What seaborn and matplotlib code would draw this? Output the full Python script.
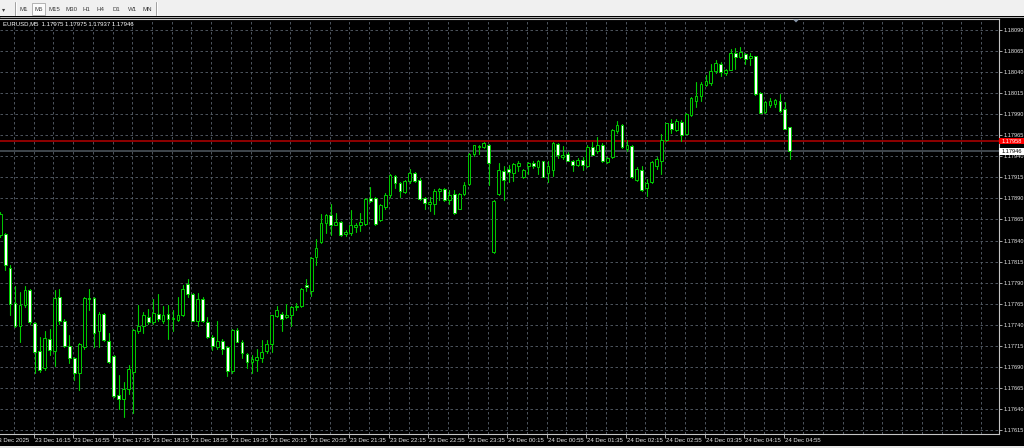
import numpy as np
import pandas as pd
import matplotlib
matplotlib.use("Agg")
import matplotlib.pyplot as plt
import matplotlib.transforms as mtransforms
from matplotlib.patches import Rectangle, Polygon
from matplotlib.lines import Line2D
import seaborn as sns

# ---------------- data ----------------
chart_title = "EURUSD,M5  1.17975 1.17975 1.17937 1.17946"
first_bar_time = "2025-12-23 15:45"

opens = [
    1.17846, 1.17848, 1.17807, 1.17766, 1.17738, 1.17764, 1.17781, 1.17742, 1.17709, 1.17688,
    1.17723, 1.17709, 1.17773, 1.17745, 1.17715, 1.17700, 1.17683, 1.17714, 1.17772, 1.17772,
    1.17733, 1.17753, 1.17721, 1.17703, 1.17657, 1.17652, 1.17664, 1.17684, 1.17732, 1.17739,
    1.17749, 1.17743, 1.17753, 1.17745, 1.17753, 1.17747, 1.17746, 1.17751, 1.17788, 1.17776,
    1.17745, 1.17771, 1.17743, 1.17726, 1.17714, 1.17721, 1.17714, 1.17685, 1.17734, 1.17720,
    1.17705, 1.17696, 1.17698, 1.17700, 1.17709, 1.17717, 1.17750, 1.17753, 1.17749, 1.17752,
    1.17761, 1.17762, 1.17787, 1.17780, 1.17820, 1.17838, 1.17861, 1.17870, 1.17859, 1.17862,
    1.17848, 1.17849, 1.17856, 1.17858, 1.17860, 1.17891, 1.17891, 1.17864, 1.17880, 1.17894,
    1.17917, 1.17908, 1.17898, 1.17911, 1.17920, 1.17912, 1.17890, 1.17883, 1.17883, 1.17899,
    1.17901, 1.17888, 1.17895, 1.17878, 1.17895, 1.17907, 1.17943, 1.17951, 1.17951, 1.17954,
    1.17826, 1.17895, 1.17923, 1.17925, 1.17920, 1.17929, 1.17915, 1.17929, 1.17932, 1.17927,
    1.17934, 1.17920, 1.17924, 1.17955, 1.17939, 1.17943, 1.17935, 1.17930, 1.17936, 1.17928,
    1.17951, 1.17946, 1.17953, 1.17933, 1.17939, 1.17970, 1.17977, 1.17949, 1.17952, 1.17912,
    1.17924, 1.17902, 1.17909, 1.17929, 1.17935, 1.17959, 1.17980, 1.17971, 1.17981, 1.17967,
    1.17989, 1.18006, 1.18012, 1.18025, 1.18027, 1.18041, 1.18050, 1.18039, 1.18043, 1.18063,
    1.18058, 1.18061, 1.18057, 1.18059, 1.18015, 1.17993, 1.18001, 1.18002, 1.18006, 1.17996,
    1.17975,
]
highs = [
    1.17874, 1.17849, 1.17811, 1.17786, 1.17779, 1.17786, 1.17783, 1.17743, 1.17726, 1.17732,
    1.17735, 1.17781, 1.17783, 1.17747, 1.17728, 1.17702, 1.17718, 1.17773, 1.17782, 1.17773,
    1.17755, 1.17754, 1.17730, 1.17704, 1.17680, 1.17672, 1.17692, 1.17735, 1.17763, 1.17755,
    1.17759, 1.17771, 1.17776, 1.17762, 1.17763, 1.17757, 1.17773, 1.17787, 1.17794, 1.17778,
    1.17778, 1.17773, 1.17749, 1.17728, 1.17745, 1.17723, 1.17715, 1.17735, 1.17736, 1.17722,
    1.17706, 1.17704, 1.17711, 1.17722, 1.17722, 1.17752, 1.17762, 1.17755, 1.17765, 1.17762,
    1.17766, 1.17784, 1.17794, 1.17820, 1.17842, 1.17871, 1.17871, 1.17883, 1.17873, 1.17863,
    1.17853, 1.17876, 1.17861, 1.17873, 1.17891, 1.17904, 1.17892, 1.17883, 1.17896, 1.17919,
    1.17918, 1.17910, 1.17912, 1.17925, 1.17921, 1.17914, 1.17892, 1.17892, 1.17901, 1.17902,
    1.17902, 1.17900, 1.17900, 1.17896, 1.17910, 1.17944, 1.17954, 1.17953, 1.17957, 1.17955,
    1.17888, 1.17932, 1.17929, 1.17930, 1.17932, 1.17934, 1.17925, 1.17933, 1.17935, 1.17936,
    1.17935, 1.17934, 1.17957, 1.17956, 1.17952, 1.17945, 1.17936, 1.17938, 1.17939, 1.17953,
    1.17957, 1.17963, 1.17956, 1.17939, 1.17972, 1.17982, 1.17978, 1.17959, 1.17953, 1.17927,
    1.17929, 1.17913, 1.17934, 1.17939, 1.17966, 1.17980, 1.17984, 1.17984, 1.17983, 1.17991,
    1.18010, 1.18028, 1.18028, 1.18037, 1.18050, 1.18054, 1.18052, 1.18044, 1.18068, 1.18069,
    1.18070, 1.18063, 1.18063, 1.18059, 1.18016, 1.18006, 1.18009, 1.18008, 1.18014, 1.18004,
    1.17975,
]
lows = [
    1.17844, 1.17805, 1.17751, 1.17737, 1.17720, 1.17761, 1.17741, 1.17683, 1.17684, 1.17686,
    1.17704, 1.17691, 1.17741, 1.17714, 1.17694, 1.17674, 1.17663, 1.17711, 1.17757, 1.17714,
    1.17714, 1.17721, 1.17695, 1.17654, 1.17640, 1.17630, 1.17658, 1.17635, 1.17730, 1.17730,
    1.17741, 1.17741, 1.17745, 1.17742, 1.17723, 1.17732, 1.17745, 1.17750, 1.17773, 1.17744,
    1.17739, 1.17743, 1.17724, 1.17710, 1.17711, 1.17705, 1.17679, 1.17683, 1.17719, 1.17700,
    1.17689, 1.17683, 1.17685, 1.17696, 1.17706, 1.17707, 1.17749, 1.17733, 1.17748, 1.17739,
    1.17757, 1.17761, 1.17780, 1.17774, 1.17811, 1.17837, 1.17849, 1.17846, 1.17858, 1.17845,
    1.17845, 1.17847, 1.17850, 1.17851, 1.17859, 1.17886, 1.17859, 1.17863, 1.17877, 1.17892,
    1.17902, 1.17892, 1.17896, 1.17908, 1.17909, 1.17888, 1.17878, 1.17875, 1.17872, 1.17888,
    1.17887, 1.17883, 1.17872, 1.17877, 1.17894, 1.17906, 1.17940, 1.17943, 1.17950, 1.17906,
    1.17825, 1.17894, 1.17888, 1.17910, 1.17911, 1.17922, 1.17914, 1.17919, 1.17926, 1.17919,
    1.17915, 1.17910, 1.17917, 1.17938, 1.17937, 1.17934, 1.17923, 1.17929, 1.17924, 1.17927,
    1.17941, 1.17944, 1.17933, 1.17932, 1.17938, 1.17968, 1.17950, 1.17946, 1.17914, 1.17911,
    1.17899, 1.17893, 1.17908, 1.17925, 1.17919, 1.17958, 1.17968, 1.17970, 1.17958, 1.17966,
    1.17988, 1.17999, 1.18006, 1.18023, 1.18025, 1.18039, 1.18035, 1.18037, 1.18042, 1.18044,
    1.18057, 1.18050, 1.18049, 1.18013, 1.17991, 1.17992, 1.17999, 1.17999, 1.17993, 1.17972,
    1.17937,
]
closes = [
    1.17872, 1.17811, 1.17765, 1.17738, 1.17764, 1.17781, 1.17743, 1.17708, 1.17686, 1.17724,
    1.17710, 1.17772, 1.17745, 1.17715, 1.17701, 1.17683, 1.17717, 1.17772, 1.17770, 1.17730,
    1.17753, 1.17722, 1.17696, 1.17655, 1.17652, 1.17664, 1.17687, 1.17734, 1.17739, 1.17751,
    1.17743, 1.17754, 1.17747, 1.17752, 1.17747, 1.17748, 1.17751, 1.17783, 1.17776, 1.17745,
    1.17771, 1.17744, 1.17726, 1.17715, 1.17721, 1.17711, 1.17685, 1.17734, 1.17720, 1.17706,
    1.17696, 1.17699, 1.17702, 1.17707, 1.17717, 1.17751, 1.17757, 1.17747, 1.17752, 1.17761,
    1.17762, 1.17783, 1.17785, 1.17819, 1.17831, 1.17861, 1.17870, 1.17858, 1.17862, 1.17847,
    1.17850, 1.17858, 1.17859, 1.17862, 1.17889, 1.17887, 1.17860, 1.17882, 1.17894, 1.17918,
    1.17908, 1.17899, 1.17911, 1.17920, 1.17911, 1.17889, 1.17884, 1.17886, 1.17899, 1.17901,
    1.17888, 1.17894, 1.17873, 1.17895, 1.17906, 1.17943, 1.17953, 1.17952, 1.17956, 1.17932,
    1.17887, 1.17924, 1.17912, 1.17921, 1.17931, 1.17932, 1.17924, 1.17932, 1.17929, 1.17935,
    1.17916, 1.17929, 1.17956, 1.17942, 1.17942, 1.17935, 1.17930, 1.17936, 1.17930, 1.17951,
    1.17942, 1.17954, 1.17934, 1.17938, 1.17971, 1.17977, 1.17951, 1.17953, 1.17915, 1.17925,
    1.17900, 1.17908, 1.17933, 1.17937, 1.17959, 1.17979, 1.17973, 1.17982, 1.17965, 1.17990,
    1.18009, 1.18012, 1.18026, 1.18029, 1.18041, 1.18051, 1.18040, 1.18042, 1.18063, 1.18058,
    1.18064, 1.18055, 1.18059, 1.18014, 1.17992, 1.18004, 1.18006, 1.18007, 1.17994, 1.17973,
    1.17946,
]

ask_price = 1.17958
bid_price = 1.17946
ask_label = "1.17958"
bid_label = "1.17946"

price_tick_labels = [
    "1.17615", "1.17640", "1.17665", "1.17690", "1.17715", "1.17740", "1.17765",
    "1.17790", "1.17815", "1.17840", "1.17865", "1.17890", "1.17915", "1.17940",
    "1.17965", "1.17990", "1.18015", "1.18040", "1.18065", "1.18090",
]

time_tick_times = [
    "2025-12-23 15:35", "2025-12-23 16:15", "2025-12-23 16:55", "2025-12-23 17:35",
    "2025-12-23 18:15", "2025-12-23 18:55", "2025-12-23 19:35", "2025-12-23 20:15",
    "2025-12-23 20:55", "2025-12-23 21:35", "2025-12-23 22:15", "2025-12-23 22:55",
    "2025-12-23 23:35", "2025-12-24 00:15", "2025-12-24 00:55", "2025-12-24 01:35",
    "2025-12-24 02:15", "2025-12-24 02:55", "2025-12-24 03:35", "2025-12-24 04:15",
    "2025-12-24 04:55",
]
time_tick_labels = [
    "23 Dec 2025", "23 Dec 16:15", "23 Dec 16:55", "23 Dec 17:35",
    "23 Dec 18:15", "23 Dec 18:55", "23 Dec 19:35", "23 Dec 20:15",
    "23 Dec 20:55", "23 Dec 21:35", "23 Dec 22:15", "23 Dec 22:55",
    "23 Dec 23:35", "24 Dec 00:15", "24 Dec 00:55", "24 Dec 01:35",
    "24 Dec 02:15", "24 Dec 02:55", "24 Dec 03:35", "24 Dec 04:15",
    "24 Dec 04:55",
]

timeframes = ["M1", "M5", "M15", "M30", "H1", "H4", "D1", "W1", "MN"]
active_timeframe = "M5"

# ---------------- style ----------------
sns.set_theme(style="dark")
plt.rcParams["font.family"] = ["Liberation Sans", "DejaVu Sans"]

GREEN = "#00cc00"
GRID = "#59626c"
FRAME = "#c4c4c4"
TXT = "#e6e6e6"

W, H = 1024, 448
fig = plt.figure(figsize=(W / 100, H / 100), dpi=100, facecolor="black")


def fx(px):
    return px / W


def fy(py):
    return 1 - py / H


ax_left, ax_right, ax_top, ax_bottom = 0, 999, 19, 434
ax = fig.add_axes([fx(ax_left), fy(ax_bottom), (ax_right - ax_left) / W, (ax_bottom - ax_top) / H])
ax.set_facecolor("black")

n = len(opens)
times = pd.date_range(first_bar_time, periods=n, freq="5min")
df = pd.DataFrame({"bar": np.arange(n), "time": times, "open": opens,
                   "high": highs, "low": lows, "close": closes})

# wicks through seaborn (one unit per candle)
wicks = pd.concat([df[["bar", "high"]].rename(columns={"high": "price"}),
                   df[["bar", "low"]].rename(columns={"low": "price"})])
sns.lineplot(data=wicks, x="bar", y="price", units="bar", estimator=None, sort=False,
             color=GREEN, linewidth=0.8, ax=ax, legend=False, zorder=2)

# bodies
o = df["open"].to_numpy()
c = df["close"].to_numpy()
bottom = np.minimum(o, c)
height = np.maximum(np.abs(c - o), 0.000004)
fills = np.where(c > o, "black", "white")
ax.bar(df["bar"], height, bottom=bottom, width=0.56, color=fills,
       edgecolor=GREEN, linewidth=0.7, zorder=3)

# price lines
ax.axhline(ask_price, color="#a80000", lw=1.2, zorder=1.5)
ax.axhline(bid_price, color="#4a5259", lw=1.2, zorder=1.5)

# axes scale (≈4.935 px per bar, ≈84200 px per price unit)
ax.set_xlim(-0.05, 202.4)
ax.set_ylim(1.1761021, 1.1810306)
ax.set_xlabel("")
ax.set_ylabel("")

# grid
price_ticks = [float(p) for p in price_tick_labels]
for p in price_ticks:
    ax.axhline(p, color=GRID, lw=0.6, ls=(0, (3, 3)), zorder=0.5)

tick_bars = ((pd.to_datetime(time_tick_times) - times[0]) / pd.Timedelta("5min")).to_numpy() + 0.75
grid_x = np.arange(tick_bars[0], 203, 4)
for gx in grid_x:
    ax.axvline(gx, color=GRID, lw=0.6, ls=(0, (3, 3)), zorder=0.5)

# y axis on the right
ax.yaxis.tick_right()
ax.set_yticks(price_ticks)
ax.set_yticklabels(price_tick_labels)
ax.tick_params(axis="y", which="major", length=2, width=0.6, color=FRAME, pad=1.2,
               labelsize=4.1, labelcolor=TXT, direction="out", left=False, right=True)

# x ticks (marks only), labels drawn as texts
visible = tick_bars[(tick_bars > 0) & (tick_bars < 202.4)]
ax.set_xticks(visible)
ax.set_xticklabels([])
ax.tick_params(axis="x", which="major", length=3, width=0.6, color=FRAME, direction="out",
               bottom=True, top=False)
lab_tr = mtransforms.blended_transform_factory(ax.transData, ax.transAxes) + \
    mtransforms.ScaledTranslation(1 / 100, -6.5 / 100, fig.dpi_scale_trans)
for pos, lab in zip(tick_bars, time_tick_labels):
    ax.text(pos, 0, lab, transform=lab_tr, ha="left", va="center", fontsize=4.3,
            color=TXT, clip_on=False)

for side in ["top", "right", "bottom"]:
    ax.spines[side].set_color(FRAME)
    ax.spines[side].set_linewidth(0.8)
    ax.spines[side].set_visible(True)
ax.spines["left"].set_visible(False)

# current price boxes on the price scale
box_tr = mtransforms.blended_transform_factory(ax.transAxes, ax.transData)
box_h = 0.000078
box_w = 25 / (ax_right - ax_left)
ax.add_patch(Rectangle((1.0, ask_price - box_h / 2), box_w, box_h, transform=box_tr,
                       facecolor="#ff0000", edgecolor="none", clip_on=False, zorder=6))
ax.add_patch(Rectangle((1.0, bid_price - box_h / 2), box_w, box_h, transform=box_tr,
                       facecolor="#ffffff", edgecolor="none", clip_on=False, zorder=6))
ax.text(1.003, ask_price, ask_label, transform=box_tr, ha="left", va="center",
        fontsize=4.1, color="white", clip_on=False, zorder=7)
ax.text(1.003, bid_price, bid_label, transform=box_tr, ha="left", va="center",
        fontsize=4.1, color="black", clip_on=False, zorder=7)

# title
fig.text(fx(3), fy(24), chart_title, ha="left", va="center", fontsize=4.3, color="white")

# chart shift marker
fig.add_artist(Polygon([(fx(793), fy(19.5)), (fx(799), fy(19.5)), (fx(796), fy(22.5))],
                       closed=True, transform=fig.transFigure, facecolor="#8896a8",
                       edgecolor="none", zorder=8))

# toolbar
fig.add_artist(Rectangle((0, fy(16.5)), 1, 16.5 / H, transform=fig.transFigure,
                         facecolor="#f0f0f0", edgecolor="none", zorder=1))
fig.add_artist(Line2D([0, 1], [fy(16.6), fy(16.6)], transform=fig.transFigure,
                      color="#b8b8b8", lw=0.7, zorder=2))
fig.add_artist(Rectangle((fx(32), fy(15.5)), 13 / W, 12.5 / H, transform=fig.transFigure,
                         facecolor="#fbfbfb", edgecolor="#a8a8a8", lw=0.6, zorder=2))
for sx in [14.5, 155.5]:
    fig.add_artist(Line2D([fx(sx), fx(sx)], [fy(2), fy(15)], transform=fig.transFigure,
                          color="#a0a0a0", lw=0.7, zorder=2))
    fig.add_artist(Line2D([fx(sx + 1), fx(sx + 1)], [fy(2), fy(15)], transform=fig.transFigure,
                          color="#ffffff", lw=0.7, zorder=2))
fig.text(fx(4), fy(9.5), "\u25be", ha="center", va="center", fontsize=4.5,
         color="#404040", family=["DejaVu Sans"], zorder=3)
tf_centers = [24, 39, 54, 71, 86.5, 100.5, 116.5, 133, 147]
for name, cx in zip(timeframes, tf_centers):
    fig.text(fx(cx), fy(9.5), name, ha="center", va="center", fontsize=4.4,
             color="#3a3a3a", zorder=3)

# bottom strip
fig.add_artist(Rectangle((0, 0), 1, 2.5 / H, transform=fig.transFigure,
                         facecolor="#e8e8e8", edgecolor="none", zorder=1))

fig.savefig("out.png", dpi=100, facecolor="black")
